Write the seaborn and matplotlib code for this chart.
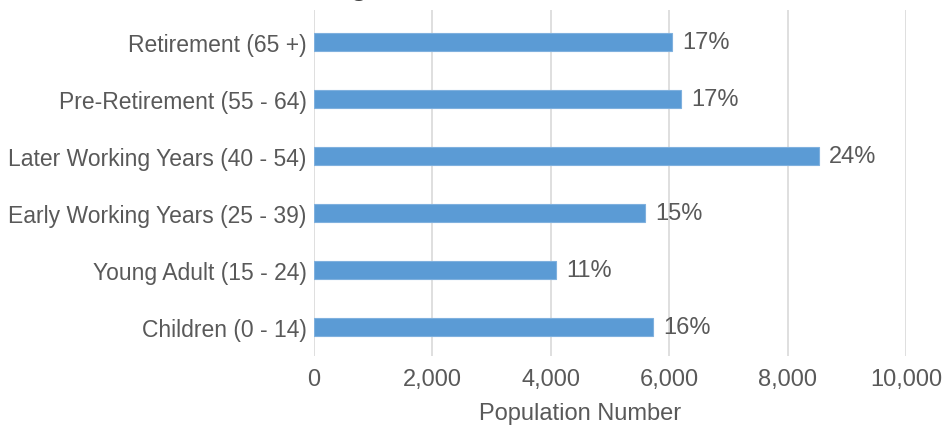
import matplotlib
matplotlib.use("Agg")
import matplotlib.pyplot as plt
import seaborn as sns
import pandas as pd
from matplotlib.ticker import FuncFormatter

# Population counts by life stage
age_groups = [
    "Retirement (65 +)",
    "Pre-Retirement (55 - 64)",
    "Later Working Years (40 - 54)",
    "Early Working Years (25 - 39)",
    "Young Adult (15 - 24)",
    "Children (0 - 14)",
]
population = [6042, 6205, 8519, 5585, 4083, 5721]
share_labels = ["17%", "17%", "24%", "15%", "11%", "16%"]
x_ticks = [0, 2000, 4000, 6000, 8000, 10000]

df = pd.DataFrame({"group": age_groups, "population": population})

sns.set_theme(style="white")
plt.rcParams["font.family"] = ["Liberation Sans", "DejaVu Sans"]

text_color = "#595959"
bar_color = "#5b9bd5"

fig = plt.figure(figsize=(9.48, 4.27), dpi=100)
ax = fig.add_axes([0.331, 0.164, 0.625, 0.811])

sns.barplot(data=df, x="population", y="group", orient="h",
            color=bar_color, width=0.315, saturation=1,
            edgecolor="#7fb0de", linewidth=0.8, ax=ax, zorder=3)

for i, (v, lab) in enumerate(zip(population, share_labels)):
    ax.text(v + 170, i, lab, va="center", ha="left",
            fontsize=17, color=text_color)

ax.set_xlim(0, 10000)
ax.set_ylim(5.5, -0.56)
ax.set_xticks(x_ticks)
ax.xaxis.set_major_formatter(FuncFormatter(lambda v, p: f"{int(v):,}"))
ax.grid(axis="x", color="#d9d9d9", linewidth=1.2, zorder=0)
ax.grid(axis="y", visible=False)
for s in ax.spines.values():
    s.set_visible(False)

ax.tick_params(axis="x", length=0, pad=9, labelsize=17, labelcolor=text_color)
ax.tick_params(axis="y", length=0, pad=5, labelsize=16.5, labelcolor=text_color)
ax.set_ylabel("")
ax.set_xlabel("")
fig.text(580 / 948, 1 - 414 / 427, "Population Number", ha="center",
         va="center", fontsize=17, color=text_color)

# Title sits above the top edge of the canvas
fig.text(0.3505, 1.0105, "Age Distribution", ha="left", va="baseline",
         fontsize=19, fontweight="bold", color="#404040")

fig.savefig("out.png", dpi=100)
